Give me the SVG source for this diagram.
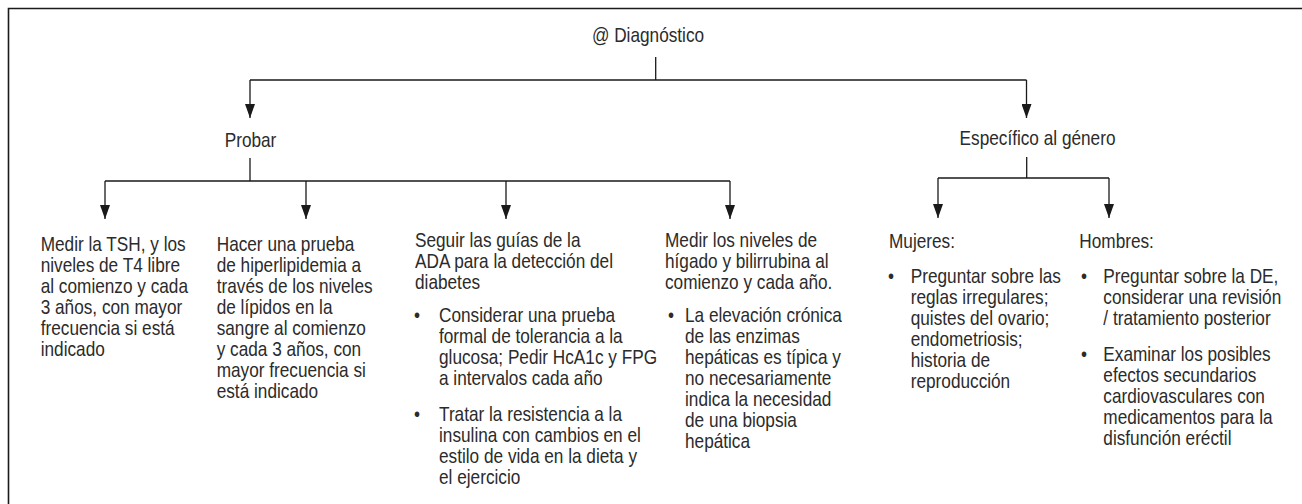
<svg xmlns="http://www.w3.org/2000/svg" width="1302" height="504" viewBox="0 0 1302 504">
<defs>
<marker id="arr" viewBox="0 0 14 10" refX="14" refY="5" markerWidth="14" markerHeight="10" markerUnits="userSpaceOnUse" orient="auto">
<path d="M0,0 L14,5 L0,10 z" fill="#1a1a1a"/>
</marker>
<style>
text{font-family:"Liberation Sans",Arial,sans-serif;font-size:21px;fill:#2b2b2b}
.c{text-anchor:middle}
.ln{fill:none;stroke:#1a1a1a;stroke-width:1.3}
.ar{fill:none;stroke:#1a1a1a;stroke-width:1.3;marker-end:url(#arr)}
.frame{fill:none;stroke:#1a1a1a;stroke-width:1.6}
</style>
</defs>
<rect width="1302" height="504" fill="#ffffff"/>
<path class="frame" d="M8.5,504 V8.5 H1302"/>
<g id="connectors">
<path class="ln" d="M655.7,57 V80 M250,80 H1026.5"/>
<path class="ar" d="M250,80 V118"/>
<path class="ar" d="M1026.5,80 V118"/>
<path class="ln" d="M250,158 V181 M105,181 H730"/>
<path class="ar" d="M105,181 V219"/>
<path class="ar" d="M306,181 V219"/>
<path class="ar" d="M506,181 V219"/>
<path class="ar" d="M730,181 V219"/>
<path class="ln" d="M1026.7,157 V178 M938,178 H1109"/>
<path class="ar" d="M938,178 V218"/>
<path class="ar" d="M1109,178 V218"/>
</g>
<g id="diagnostico" transform="translate(648,0) scale(0.82,1)"><text class="c" x="0" y="42">@ Diagnóstico</text></g>
<g id="probar" transform="translate(250.5,0) scale(0.82,1)"><text class="c" x="0" y="146.7">Probar</text></g>
<g id="especifico" transform="translate(1037.5,0) scale(0.82,1)"><text class="c" x="0" y="145">Específico al género</text></g>
<g id="tsh" transform="translate(40.7,0) scale(0.82,1)">
<text x="0" y="251">Medir la TSH, y los</text>
<text x="0" y="272">niveles de T4 libre</text>
<text x="0" y="293">al comienzo y cada</text>
<text x="0" y="314">3 años, con mayor</text>
<text x="0" y="335">frecuencia si está</text>
<text x="0" y="356">indicado</text>
</g>
<g id="hiperlipidemia" transform="translate(216.7,0) scale(0.82,1)">
<text x="0" y="251">Hacer una prueba</text>
<text x="0" y="272">de hiperlipidemia a</text>
<text x="0" y="293">través de los niveles</text>
<text x="0" y="314">de lípidos en la</text>
<text x="0" y="335">sangre al comienzo</text>
<text x="0" y="356">y cada 3 años, con</text>
<text x="0" y="377">mayor frecuencia si</text>
<text x="0" y="398">está indicado</text>
</g>
<g id="diabetes" transform="translate(415,0) scale(0.82,1)">
<text x="0" y="247">Seguir las guías de la</text>
<text x="0" y="268">ADA para la detección del</text>
<text x="0" y="289">diabetes</text>
<text x="-1.2" y="322">•</text>
<text x="29.3" y="322">Considerar una prueba</text>
<text x="29.3" y="343">formal de tolerancia a la</text>
<text x="29.3" y="364">glucosa; Pedir HcA1c y FPG</text>
<text x="29.3" y="385">a intervalos cada año</text>
<text x="-1.2" y="421">•</text>
<text x="29.3" y="421">Tratar la resistencia a la</text>
<text x="29.3" y="442">insulina con cambios en el</text>
<text x="29.3" y="463">estilo de vida en la dieta y</text>
<text x="29.3" y="484">el ejercicio</text>
</g>
<g id="higado" transform="translate(665,0) scale(0.82,1)">
<text x="0" y="247">Medir los niveles de</text>
<text x="0" y="268">hígado y bilirrubina al</text>
<text x="0" y="289">comienzo y cada año.</text>
<text x="3.7" y="322">•</text>
<text x="24.4" y="322">La elevación crónica</text>
<text x="24.4" y="343">de las enzimas</text>
<text x="24.4" y="364">hepáticas es típica y</text>
<text x="24.4" y="385">no necesariamente</text>
<text x="24.4" y="406">indica la necesidad</text>
<text x="24.4" y="427">de una biopsia</text>
<text x="24.4" y="448">hepática</text>
</g>
<g id="mujeres" transform="translate(889,0) scale(0.82,1)">
<text x="0" y="248">Mujeres:</text>
<text x="-1.2" y="283">•</text>
<text x="26.5" y="283">Preguntar sobre las</text>
<text x="26.5" y="304">reglas irregulares;</text>
<text x="26.5" y="325">quistes del ovario;</text>
<text x="26.5" y="346">endometriosis;</text>
<text x="26.5" y="367">historia de</text>
<text x="26.5" y="388">reproducción</text>
</g>
<g id="hombres" transform="translate(1079.3,0) scale(0.82,1)">
<text x="0" y="248">Hombres:</text>
<text x="2.1" y="283">•</text>
<text x="29.3" y="283">Preguntar sobre la DE,</text>
<text x="29.3" y="304">considerar una revisión</text>
<text x="29.3" y="325">/ tratamiento posterior</text>
<text x="2.1" y="361">•</text>
<text x="29.3" y="361">Examinar los posibles</text>
<text x="29.3" y="382">efectos secundarios</text>
<text x="29.3" y="403">cardiovasculares con</text>
<text x="29.3" y="424">medicamentos para la</text>
<text x="29.3" y="445">disfunción eréctil</text>
</g>
</svg>
